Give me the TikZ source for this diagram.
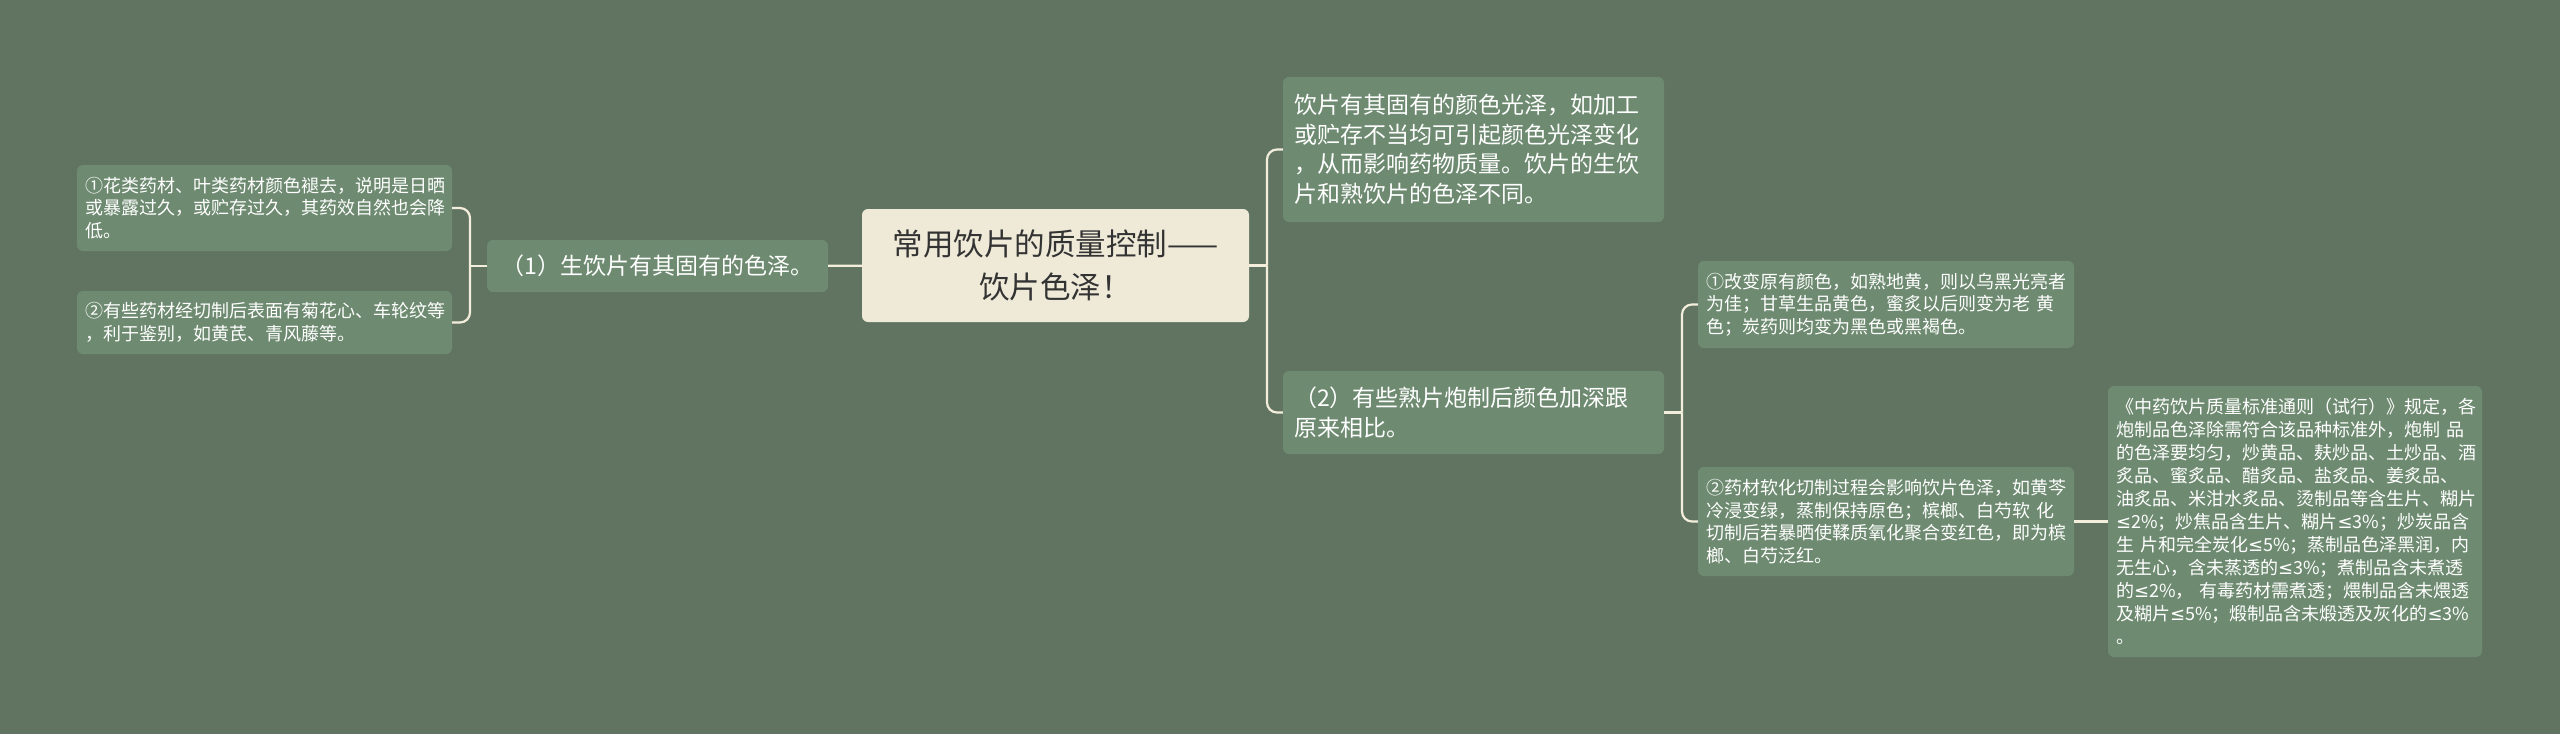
\documentclass[tikz,border=0pt]{standalone}
\usepackage{fontspec}
\setmainfont{Noto Sans CJK SC}
\newfontfamily\symfont{DejaVu Sans}
\newcommand\lteq{{\symfont ≤}}
\definecolor{bgcol}{HTML}{617462}
\definecolor{boxcol}{HTML}{6E8B71}
\definecolor{rootcol}{HTML}{EFEAD8}
\definecolor{linecol}{HTML}{F2EEDB}
\definecolor{roottext}{HTML}{333333}
\tikzset{
  box/.style={rectangle, rounded corners=6pt, fill=boxcol, text=white, inner ysep=0pt},
  leaf/.style={box, align=left, inner xsep=8pt, font=\fontsize{18pt}{22.5pt}\selectfont},
  mid/.style={box, align=left, inner xsep=11pt, font=\fontsize{23pt}{29.5pt}\selectfont},
  link/.style={draw=linecol, line width=2.2pt},
  elbow/.style={link, rounded corners=10pt}
}
\begin{document}
\begin{tikzpicture}[x=1pt, y=-1pt]
\useasboundingbox[fill=bgcol] (0,0) rectangle (2560,734);
\node[box, fill=rootcol, text=roottext, align=center, minimum width=387pt, minimum height=113pt, font=\fontsize{30.5pt}{43pt}\selectfont] (root) at (1055.5,265.5){常用饮片的质量控制——\\饮片色泽！};
\node[mid, align=center, minimum width=341pt, minimum height=52pt] (raw) at (657.5,266){（1）生饮片有其固有的色泽。};
\node[leaf, text width=359pt, minimum height=86pt] (rawa) at (264.5,208){①花类药材、叶类药材颜色褪去，说明是日晒\\或暴露过久，或贮存过久，其药效自然也会降\\低。};
\node[leaf, text width=359pt, minimum height=63pt] (rawb) at (264.5,322.5){②有些药材经切制后表面有菊花心、车轮纹等\\，利于鉴别，如黄芪、青风藤等。};
\coordinate (jraw) at (470,266);
\draw[link](root) -- (raw);
\draw[link](raw) -- (jraw);
\draw[elbow](jraw) |- (rawa);
\draw[elbow](jraw) |- (rawb);
\node[mid, text width=359pt, minimum height=145pt] (gloss) at (1473.5,149.5){饮片有其固有的颜色光泽，如加工\\或贮存不当均可引起颜色光泽变化\\，从而影响药物质量。饮片的生饮\\片和熟饮片的色泽不同。};
\node[mid, text width=359pt, minimum height=83pt] (proc) at (1473.5,412.5){（2）有些熟片炮制后颜色加深跟\\原来相比。};
\coordinate (jroot) at (1267,265.5);
\draw[link](root) -- (jroot);
\draw[elbow](jroot) |- (gloss);
\draw[elbow](jroot) |- (proc);
\node[leaf, text width=360pt, minimum height=87pt] (proca) at (1886,304.5){①改变原有颜色，如熟地黄，则以乌黑光亮者\\为佳；甘草生品黄色，蜜炙以后则变为老~黄\\色；炭药则均变为黑色或黑褐色。};
\node[leaf, text width=360pt, minimum height=109pt] (procb) at (1886,521.5){②药材软化切制过程会影响饮片色泽，如黄芩\\冷浸变绿，蒸制保持原色；槟榔、白芍软~化\\切制后若暴晒使鞣质氧化聚合变红色，即为槟\\榔、白芍泛红。};
\coordinate (jproc) at (1682,412.5);
\draw[link](proc) -- (jproc);
\draw[elbow](jproc) |- (proca);
\draw[elbow](jproc) |- (procb);
\node[leaf, text width=358pt, minimum height=271pt, font=\fontsize{18pt}{23pt}\selectfont] (std) at (2295,521.5){《中药饮片质量标准通则（试行）》规定，各\\炮制品色泽除需符合该品种标准外，炮制~品\\的色泽要均匀，炒黄品、麸炒品、土炒品、酒\\炙品、蜜炙品、醋炙品、盐炙品、姜炙品、\\油炙品、米泔水炙品、烫制品等含生片、糊片\\\lteq 2\%；炒焦品含生片、糊片\lteq 3\%；炒炭品含\\生~片和完全炭化\lteq 5\%；蒸制品色泽黑润，内\\无生心，含未蒸透的\lteq 3\%；煮制品含未煮透\\的\lteq 2\%，~有毒药材需煮透；煨制品含未煨透\\及糊片\lteq 5\%；煅制品含未煅透及灰化的\lteq 3\%\\。};
\draw[link](procb) -- (std);
\end{tikzpicture}
\end{document}
